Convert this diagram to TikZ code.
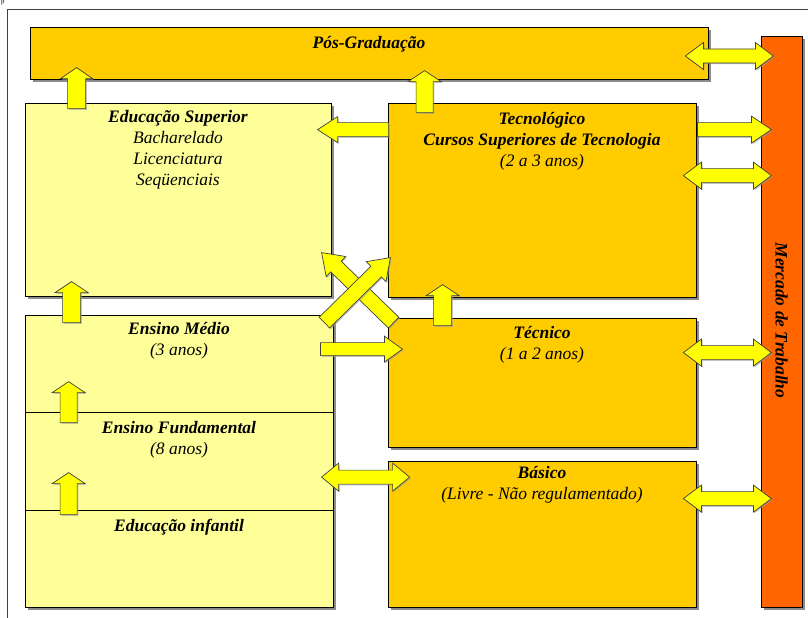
\documentclass[tikz,border=0pt]{standalone}
\usepackage{fontspec}
\setmainfont{Liberation Serif}
\usetikzlibrary{calc,shadows}

\definecolor{gold}{HTML}{FFCC00}
\definecolor{paleyellow}{HTML}{FFFF99}
\definecolor{arrowyellow}{HTML}{FFFF00}
\definecolor{marketorange}{HTML}{FF6600}
\definecolor{edgegray}{HTML}{404040}

% block arrows: tail, tip, half shaft, half head, head length
\newcommand{\onearrow}[5]{%
	\coordinate (ta) at #1;
	\coordinate (tb) at #2;
	\coordinate (hb) at ($(tb)!#5!(ta)$);
	\draw[blockarrow] ($(ta)!#3!90:(tb)$) -- ($(hb)!#3!90:(tb)$) -- ($(hb)!#4!90:(tb)$) -- (tb)
		-- ($(hb)!#4!-90:(tb)$) -- ($(hb)!#3!-90:(tb)$) -- ($(ta)!#3!-90:(tb)$) -- cycle;
}
\newcommand{\twoarrow}[5]{%
	\coordinate (ta) at #1;
	\coordinate (tb) at #2;
	\coordinate (ha) at ($(ta)!#5!(tb)$);
	\coordinate (hb) at ($(tb)!#5!(ta)$);
	\draw[blockarrow] (ta) -- ($(ha)!#4!90:(tb)$) -- ($(ha)!#3!90:(tb)$) -- ($(hb)!#3!90:(tb)$) -- ($(hb)!#4!90:(tb)$) -- (tb)
		-- ($(hb)!#4!-90:(tb)$) -- ($(hb)!#3!-90:(tb)$) -- ($(ha)!#3!-90:(tb)$) -- ($(ha)!#4!-90:(tb)$) -- cycle;
}

\begin{document}
\begin{tikzpicture}[x=1pt, y=-1pt,
	box/.style={draw=black, line width=0.8pt, inner sep=0pt,
		drop shadow={shadow xshift=3pt, shadow yshift=-3pt, fill=black!50, opacity=0.9}},
	blockarrow/.style={fill=arrowyellow, draw=edgegray, line width=0.7pt, line join=miter,
		drop shadow={shadow xshift=1.2pt, shadow yshift=-1.2pt, fill=black!40, opacity=0.6}},
	label/.style={font=\fontsize{17.5}{21}\selectfont\itshape, align=center, inner sep=0pt, anchor=north}]
	\useasboundingbox (0,0) rectangle (808,618);
	\node[anchor=north west, inner sep=0pt, font=\fontsize{7}{8}\selectfont] (pfrag) at (1,0.5) {p};
	\draw[edgegray, line width=1pt] (7,618) -- (7,10) -- (808,10);

	% boxes
	\node[box, fill=gold, minimum width=678, minimum height=52] (pos) at (369,53) {};
	\node[box, fill=marketorange, minimum width=41, minimum height=571] (mercado) at (781.5,321.5) {};
	\node[box, fill=paleyellow, minimum width=306, minimum height=193] (edsup) at (178,199.5) {};
	\node[box, fill=gold, minimum width=308, minimum height=194] (tecno) at (542,200) {};
	\node[box, fill=paleyellow, minimum width=308, minimum height=97] (medio) at (179,363.5) {};
	\node[box, fill=paleyellow, minimum width=308, minimum height=98] (fundam) at (179,461) {};
	\node[box, fill=paleyellow, minimum width=308, minimum height=97] (infantil) at (179,558.5) {};
	\node[box, fill=gold, minimum width=308, minimum height=129] (tecnico) at (542,382.5) {};
	\node[box, fill=gold, minimum width=308, minimum height=146] (basico) at (542,534) {};

	% texts
	\node[label] (postxt) at ($(pos.north)+(0,10)$) {\textbf{Pós-Graduação}};
	\node[label] (edsuptxt) at ($(edsup.north)+(0,8)$) {\textbf{Educação Superior}\\Bacharelado\\Licenciatura\\Seqüenciais};
	\node[label] (tecnotxt) at ($(tecno.north)+(0,10)$) {\textbf{Tecnológico}\\\textbf{Cursos Superiores de Tecnologia}\\(2 a 3 anos)};
	\node[label] (mediotxt) at ($(medio.north)+(0,8)$) {\textbf{Ensino Médio}\\(3 anos)};
	\node[label] (fundtxt) at ($(fundam.north)+(0,10)$) {\textbf{Ensino Fundamental}\\(8 anos)};
	\node[label] (inftxt) at ($(infantil.north)+(0,9)$) {\textbf{Educação infantil}};
	\node[label] (tecnicotxt) at ($(tecnico.north)+(0,9)$) {\textbf{Técnico}\\(1 a 2 anos)};
	\node[label] (basicotxt) at ($(basico.north)+(0,6)$) {\textbf{Básico}\\(Livre - Não regulamentado)};
	\node[label, anchor=center, rotate=-90] (mercadotxt) at ($(mercado.center)+(0,-1)$) {\textbf{Mercado de Trabalho}};

	% arrows
	\onearrow{($(edsup.north west)+(52,6)$)}{($(edsup.north west)+(52,-35)$)}{9pt}{16pt}{11pt}
	\onearrow{($(tecno.north west)+(37,10)$)}{($(tecno.north west)+(37,-32)$)}{8.5pt}{16.5pt}{11pt}
	\twoarrow{($(pos.east)+(-23,3)$)}{($(pos.east)+(65,3)$)}{7pt}{13.5pt}{18pt}
	\onearrow{($(tecno.north west)+(1,27)$)}{($(tecno.north west)+(-70,27)$)}{7pt}{13pt}{20pt}
	\onearrow{($(tecno.north east)+(1,27)$)}{($(tecno.north east)+(75,27)$)}{7pt}{13.5pt}{20pt}
	\twoarrow{($(tecno.north east)+(-13,73)$)}{($(tecno.north east)+(75,73)$)}{7pt}{13.5pt}{18pt}
	\onearrow{($(medio.north west)+(47,8)$)}{($(medio.north west)+(47,-33)$)}{9pt}{16.5pt}{11pt}
	\onearrow{($(tecnico.north west)+(6,5)$)}{($(tecnico.north west)+(-66,-65)$)}{7.5pt}{14pt}{20pt}
	\onearrow{($(medio.north east)+(-9,8)$)}{($(medio.north east)+(57,-57)$)}{7.5pt}{14pt}{20pt}
	\onearrow{($(tecnico.north west)+(55,8)$)}{($(tecnico.north west)+(55,-33)$)}{9pt}{16.5pt}{11pt}
	\onearrow{($(medio.north east)+(-13,34.5)$)}{($(medio.north east)+(69,34.5)$)}{6.5pt}{13pt}{18pt}
	\onearrow{($(fundam.north west)+(44,11)$)}{($(fundam.north west)+(44,-30)$)}{8.5pt}{16.5pt}{11pt}
	\onearrow{($(infantil.north west)+(44,5)$)}{($(infantil.north west)+(44,-37)$)}{8.5pt}{16.5pt}{11pt}
	\twoarrow{($(basico.north west)+(-66,16.5)$)}{($(basico.north west)+(22,16.5)$)}{7pt}{14pt}{17pt}
	\twoarrow{($(tecnico.north east)+(-13,35)$)}{($(tecnico.north east)+(75,35)$)}{7pt}{13.5pt}{18pt}
	\twoarrow{($(basico.north east)+(-13,38)$)}{($(basico.north east)+(75,38)$)}{7pt}{13.5pt}{18pt}
\end{tikzpicture}
\end{document}
